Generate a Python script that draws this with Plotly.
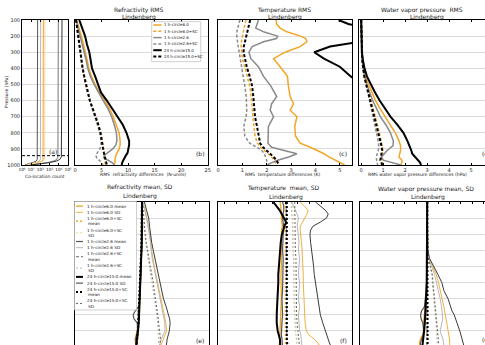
import plotly.graph_objects as go

W, H = 485, 345
FONT = "DejaVu Sans"

# ---------------- data ----------------
series_keys = ["h6", "h6sc", "h26", "h26sc", "h24", "h24sc"]
series_names = ["1 h-circle6.0", "1 h-circle6.0+SC", "1 h-circle2.6",
                "1 h-circle2.6+SC", "24 h-circle15.0", "24 h-circle15.0+SC"]

# (a) co-location count vs pressure
count_ticks = [1, 10, 100, 1000, 10000, 100000]
count_tick_text = ["10⁰", "10¹", "10²", "10³", "10⁴", "10⁵"]
p_a = [100, 300, 500, 700, 900, 930, 950, 965, 975, 985, 992, 1000]
count_h26 = [50, 50, 50, 50, 50, 50, 48, 45, 35, 15, 5, 2]
count_h26sc = [107, 107, 107, 107, 107, 107, 105, 100, 80, 30, 8, 3]
count_h6 = [210, 210, 210, 210, 210, 210, 205, 195, 160, 60, 12, 3]
count_h6sc = [316, 316, 316, 316, 316, 316, 310, 290, 230, 80, 15, 4]
count_h24 = [8900, 8900, 8900, 8900, 8900, 8800, 8000, 6000, 3000, 600, 60, 8]
count_h24sc = [22400, 22400, 22400, 22400, 22400, 22000, 19000, 13000, 6000, 1000, 80, 10]
ref_level_a = 942

# (b) refractivity RMS (N-units)
p_b = [100, 150, 200, 250, 300, 350, 400, 450, 500, 550, 600, 650, 700, 750,
       800, 850, 875, 900, 925, 940, 955, 970, 985, 1000]
rms_n_h6 = [0.3, 0.8, 1.2, 1.6, 2.0, 2.3, 2.6, 3.1, 3.8, 4.6, 5.6, 6.5, 7.2, 7.8,
            8.3, 8.5, 8.5, 8.3, 7.9, 7.7, 7.6, 7.6, 7.5, 7.4]
rms_n_h6sc = [0.2, 0.4, 0.55, 0.75, 0.95, 1.15, 1.4, 1.7, 2.0, 2.4, 2.8, 3.3, 3.85, 4.4,
              4.85, 5.15, 5.3, 5.45, 5.55, 5.6, 5.6, 5.6, 5.65, 5.7]
rms_n_h26 = [0.2, 0.6, 1.0, 1.4, 1.8, 2.1, 2.4, 2.9, 3.6, 4.4, 5.3, 6.2, 6.9, 7.4,
             7.8, 7.9, 7.7, 7.1, 6.2, 5.5, 5.4, 6.1, 7.0, 7.4]
rms_n_h26sc = [0.15, 0.35, 0.5, 0.7, 0.9, 1.1, 1.35, 1.65, 1.95, 2.35, 2.75, 3.25, 3.8, 4.3,
               4.7, 4.9, 4.9, 4.7, 4.2, 3.9, 4.1, 4.6, 5.0, 5.3]
rms_n_h24 = [0.8, 1.3, 1.9, 2.25, 2.7, 2.95, 3.2, 3.8, 4.3, 4.9, 6.0, 7.0, 8.1, 9.0,
             9.7, 10.2, 10.2, 10.1, 9.9, 9.6, 9.3, 9.1, 8.9, 8.8]
rms_n_h24sc = [0.2, 0.4, 0.6, 0.8, 1.0, 1.2, 1.45, 1.75, 2.1, 2.45, 2.8, 3.35, 3.9, 4.4,
               4.8, 5.0, 5.15, 5.3, 5.45, 5.55, 5.65, 5.75, 5.9, 6.0]

# (c) temperature RMS (K)
p_c = [100, 125, 150, 175, 200, 215, 235, 265, 300, 340, 390, 450, 510, 575, 620,
       660, 700, 760, 820, 865, 890, 910, 930, 950, 970, 1000]
rms_t_h6 = [2.39, 2.4, 2.55, 2.85, 3.4, 3.6, 3.65, 3.37, 2.75, 2.28, 2.55, 2.85, 2.89, 2.96, 3.1,
            2.96, 3.24, 3.15, 3.18, 3.37, 3.79, 4.1, 4.35, 4.55, 4.8, 5.2]
rms_t_h6sc = [1.15, 1.1, 1.07, 1.04, 1.0, 0.98, 0.96, 0.95, 0.96, 1.0, 1.1, 1.2, 1.3, 1.36, 1.38,
              1.4, 1.42, 1.47, 1.52, 1.62, 1.75, 1.9, 2.05, 2.2, 2.3, 2.4]
rms_t_h26 = [1.66, 1.6, 1.55, 1.9, 2.45, 2.4, 1.87, 1.4, 1.27, 1.35, 1.66, 1.87, 2.17, 2.41, 2.2,
             2.14, 2.28, 2.07, 2.07, 2.05, 2.2, 2.75, 3.24, 2.9, 2.45, 2.0]
rms_t_h26sc = [0.9, 0.85, 0.8, 0.77, 0.77, 0.78, 0.8, 0.83, 0.87, 0.92, 0.97, 1.05, 1.1, 1.16, 1.18,
               1.18, 1.15, 1.06, 1.1, 1.3, 1.6, 1.8, 1.9, 1.95, 2.0, 2.0]
rms_t_h24 = [4.95, 5.35, 6.3, 6.8, 6.8, 6.5, 5.8, 4.6, 3.95, 4.35, 5.0, 5.45, 6.0, 6.5, 6.8,
             7.0, 7.0, 7.0, 7.0, 7.0, 7.0, 7.0, 7.0, 7.0, 7.0, 7.0]
rms_t_h24sc = [1.32, 1.28, 1.24, 1.2, 1.16, 1.12, 1.09, 1.06, 1.05, 1.1, 1.18, 1.3, 1.4, 1.45, 1.47,
               1.5, 1.52, 1.6, 1.67, 1.73, 1.85, 2.0, 2.15, 2.28, 2.4, 2.5]

# (d) water vapour pressure RMS (hPa)
p_d = [100, 200, 300, 350, 400, 450, 500, 550, 600, 650, 700, 750, 800, 850, 880,
       910, 930, 950, 970, 985, 1000]
rms_e_h6 = [0, 0.01, 0.02, 0.05, 0.1, 0.18, 0.34, 0.48, 0.65, 0.86, 1.1, 1.35, 1.55, 1.72, 1.79,
            1.79, 1.75, 1.72, 1.85, 1.85, 1.8]
rms_e_h6sc = [0, 0.01, 0.03, 0.05, 0.1, 0.15, 0.25, 0.34, 0.44, 0.54, 0.64, 0.74, 0.83, 0.92, 0.97,
              1.0, 0.98, 0.95, 0.93, 0.97, 1.0]
rms_e_h26 = [0, 0.01, 0.02, 0.05, 0.09, 0.15, 0.26, 0.38, 0.52, 0.7, 0.87, 1.12, 1.33, 1.46, 1.45,
             1.18, 1.05, 0.92, 1.0, 1.4, 1.8]
rms_e_h26sc = [0, 0.01, 0.02, 0.04, 0.08, 0.13, 0.21, 0.3, 0.38, 0.46, 0.55, 0.62, 0.7, 0.77, 0.8,
               0.78, 0.73, 0.69, 0.7, 0.73, 0.75]
rms_e_h24 = [0, 0.01, 0.03, 0.08, 0.15, 0.26, 0.44, 0.63, 0.84, 1.08, 1.33, 1.64, 1.92, 2.1, 2.2,
             2.28, 2.32, 2.45, 2.6, 2.68, 2.72]
rms_e_h24sc = [0, 0.01, 0.03, 0.05, 0.09, 0.14, 0.23, 0.32, 0.41, 0.5, 0.6, 0.7, 0.78, 0.87, 0.92,
               0.95, 0.92, 0.88, 0.87, 0.92, 0.95]

# (e) refractivity mean and SD (N-units)
p_e = [100, 150, 200, 250, 300, 350, 400, 450, 500, 550, 600, 650, 700, 750, 775,
       800, 825, 850, 900, 950, 1000]
mean_n_h6 = [0, 0.1, 0.2, 0.2, 0.1, 0, 0, -0.1, -0.2, -0.3, -0.4, -0.5, -0.6, -0.8, -0.9,
             -1.0, -1.2, -1.4, -1.8, -2.6, -2.2]
sd_n_h6 = [0.3, 1.2, 1.8, 2.3, 3.0, 3.3, 3.6, 4.0, 4.6, 5.2, 5.8, 6.4, 7.0, 7.7, 8.0,
           8.3, 8.6, 8.9, 9.2, 8.0, 6.8]
mean_n_h6sc = [0, 0, 0, 0, -0.1, -0.1, -0.2, -0.3, -0.4, -0.5, -0.6, -0.7, -0.8, -0.9, -1.0,
               -1.0, -1.1, -1.2, -1.4, -1.7, -1.8]
sd_n_h6sc = [0.2, 0.4, 0.6, 0.8, 1.1, 1.5, 1.9, 2.5, 3.0, 3.6, 4.1, 4.5, 5.0, 5.4, 5.6,
             5.8, 6.0, 6.1, 6.5, 6.8, 6.5]
mean_n_h26 = [0, 0.1, 0.2, 0.2, 0.1, 0, 0, -0.1, -0.2, -0.3, -0.4, -0.6, -0.8, -1.2, -2.5,
              -3.3, -3.0, -1.8, -1.6, -2.4, -2.0]
sd_n_h26 = [0.3, 1.1, 1.7, 2.2, 2.8, 3.1, 3.4, 3.8, 4.4, 5.0, 5.6, 6.2, 6.8, 7.4, 7.7,
            7.9, 8.2, 8.5, 8.6, 7.2, 6.4]
mean_n_h26sc = [0, 0, 0, 0, -0.1, -0.1, -0.2, -0.3, -0.4, -0.5, -0.6, -0.7, -0.8, -1.0, -1.3,
                -1.6, -1.5, -1.3, -1.4, -1.8, -1.9]
sd_n_h26sc = [0.2, 0.4, 0.6, 0.8, 1.0, 1.4, 1.8, 2.3, 2.8, 3.3, 3.8, 4.2, 4.7, 5.1, 5.3,
              5.5, 5.7, 5.8, 6.0, 6.2, 6.0]
mean_n_h24 = [0, 0, 0.1, 0.1, 0, -0.1, -0.2, -0.3, -0.3, -0.4, -0.5, -0.6, -0.8, -0.9, -1.0,
              -1.0, -1.1, -1.2, -1.5, -2.0, -2.2]
sd_n_h24 = [0.9, 1.7, 2.5, 2.8, 3.1, 3.6, 4.2, 4.8, 5.4, 6.0, 6.8, 7.4, 8.0, 9.0, 9.5,
            9.9, 10.3, 10.5, 10.2, 9.4, 9.0]
mean_n_h24sc = [0, 0, 0, 0, -0.1, -0.2, -0.3, -0.4, -0.5, -0.6, -0.7, -0.8, -0.9, -1.0, -1.1,
                -1.2, -1.3, -1.4, -1.6, -1.9, -2.1]
sd_n_h24sc = [0.2, 0.4, 0.7, 0.9, 1.2, 1.6, 2.0, 2.6, 3.1, 3.7, 4.2, 4.6, 5.1, 5.5, 5.7,
              5.9, 6.1, 6.2, 6.6, 6.9, 6.6]

# (f) temperature mean and SD (K)
p_f = [100, 125, 150, 175, 200, 225, 250, 275, 300, 350, 400, 450, 500, 550, 600,
       650, 700, 750, 800, 850, 900, 925, 950, 975, 1000]
mean_t_h6 = [-0.4, -0.35, -0.3, -0.28, -0.3, -0.25, -0.22, -0.28, -0.3, -0.32, -0.3, -0.28, -0.3, -0.33, -0.3,
             -0.28, -0.3, -0.33, -0.35, -0.35, -0.38, -0.4, -0.42, -0.45, -0.5]
sd_t_h6 = [1.25, 1.6, 1.9, 1.8, 1.6, 1.4, 1.25, 1.25, 1.3, 1.35, 1.4, 1.45, 1.5, 1.5, 1.5,
           1.52, 1.55, 1.58, 1.6, 1.65, 1.75, 1.95, 2.4, 2.7, 2.9]
mean_t_h6sc = [0.05, 0.05, 0.0, 0.02, 0.05, 0.03, 0.0, 0.02, 0.04, 0.03, 0.0, 0.02, 0.04, 0.03, 0.02,
               0.0, 0.02, 0.03, 0.02, 0.0, 0.02, 0.04, 0.05, 0.06, 0.05]
sd_t_h6sc = [0.6, 0.6, 0.65, 0.65, 0.7, 0.65, 0.65, 0.7, 0.7, 0.7, 0.75, 0.75, 0.75, 0.8, 0.8,
             0.8, 0.8, 0.85, 0.85, 0.9, 0.95, 1.0, 1.05, 1.1, 1.1]
mean_t_h26 = [-0.2, -0.1, -0.1, -0.15, -0.2, -0.15, -0.1, -0.1, -0.15, -0.2, -0.2, -0.15, -0.15, -0.2, -0.2,
              -0.2, -0.25, -0.2, -0.2, -0.25, -0.3, -0.3, -0.25, -0.2, -0.2]
sd_t_h26 = [0.55, 0.7, 0.9, 1.0, 1.1, 1.05, 1.0, 1.05, 1.1, 1.15, 1.1, 1.2, 1.15, 1.1, 1.2,
            1.15, 1.1, 1.2, 1.1, 1.15, 1.2, 1.3, 1.35, 1.4, 1.4]
mean_t_h26sc = [0.1, 0.1, 0.08, 0.1, 0.12, 0.1, 0.08, 0.1, 0.1, 0.12, 0.1, 0.08, 0.1, 0.1, 0.12,
                0.1, 0.1, 0.08, 0.1, 0.1, 0.12, 0.14, 0.15, 0.16, 0.15]
sd_t_h26sc = [0.5, 0.5, 0.55, 0.55, 0.6, 0.6, 0.6, 0.6, 0.65, 0.65, 0.65, 0.7, 0.7, 0.7, 0.7,
              0.75, 0.75, 0.75, 0.8, 0.8, 0.85, 0.9, 0.95, 1.0, 1.0]
mean_t_h24 = [-0.96, -0.7, -0.45, -0.27, -0.05, 0.1, -0.05, -0.14, -0.25, -0.35, -0.41, -0.45, -0.5, -0.55, -0.55,
              -0.6, -0.62, -0.65, -0.68, -0.68, -0.6, -0.5, -0.42, -0.4, -0.4]
sd_t_h24 = [2.5, 2.9, 3.3, 3.55, 3.4, 2.9, 2.3, 2.1, 2.05, 2.1, 2.2, 2.3, 2.35, 2.4, 2.5,
            2.6, 2.7, 2.8, 2.9, 3.1, 3.3, 3.4, 3.5, 3.65, 3.8]
mean_t_h24sc = [0.15, 0.15, 0.1, 0.12, 0.14, 0.12, 0.1, 0.1, 0.12, 0.12, 0.1, 0.1, 0.12, 0.12, 0.1,
                0.1, 0.12, 0.12, 0.1, 0.1, 0.1, 0.12, 0.15, 0.18, 0.2]
sd_t_h24sc = [0.8, 0.8, 0.85, 0.85, 0.85, 0.8, 0.8, 0.8, 0.85, 0.85, 0.85, 0.9, 0.9, 0.9, 0.9,
              0.95, 0.95, 0.95, 0.95, 1.0, 1.05, 1.1, 1.1, 1.15, 1.2]

# (g) water vapour pressure mean and SD (hPa)
p_g = [100, 200, 300, 350, 400, 450, 500, 550, 600, 650, 700, 750, 775, 800, 825,
       850, 900, 925, 950, 975, 1000]
mean_e_h6 = [0, 0, 0, 0, 0, 0, 0, -0.03, -0.06, -0.1, -0.13, -0.17, -0.2, -0.25, -0.3,
             -0.3, -0.35, -0.4, -0.6, -0.7, -0.65]
sd_e_h6 = [0, 0, 0.01, 0.02, 0.05, 0.15, 0.5, 0.8, 1.0, 1.18, 1.35, 1.48, 1.55, 1.62, 1.68,
           1.75, 1.88, 1.92, 1.98, 2.0, 2.0]
mean_e_h6sc = [0, 0, 0, 0, 0, 0, 0.01, 0.01, 0.02, 0.02, 0.02, 0.03, 0.03, 0.03, 0.03,
               0.03, 0.04, 0.04, 0.03, 0.02, 0.02]
sd_e_h6sc = [0, 0, 0.01, 0.02, 0.04, 0.1, 0.32, 0.47, 0.53, 0.6, 0.66, 0.73, 0.78, 0.83, 0.88,
             0.93, 0.98, 1.0, 1.02, 1.04, 1.05]
mean_e_h26 = [0, 0, 0, 0, 0, 0, 0, -0.03, -0.06, -0.1, -0.15, -0.25, -0.5, -0.6, -0.55,
              -0.4, -0.3, -0.35, -0.5, -0.6, -0.6]
sd_e_h26 = [0, 0, 0.01, 0.02, 0.04, 0.12, 0.4, 0.65, 0.82, 1.0, 1.15, 1.28, 1.33, 1.37, 1.38,
            1.3, 1.15, 1.25, 1.4, 1.45, 1.5]
mean_e_h26sc = [0, 0, 0, 0, 0, 0, 0, 0, 0.01, 0.01, 0.01, 0.0, -0.02, -0.03, -0.02,
                -0.01, 0.0, 0.0, -0.02, -0.03, -0.03]
sd_e_h26sc = [0, 0, 0.01, 0.02, 0.03, 0.08, 0.27, 0.4, 0.45, 0.5, 0.56, 0.62, 0.66, 0.7, 0.74,
              0.78, 0.82, 0.85, 0.87, 0.9, 0.9]
mean_e_h24 = [0, 0, 0, 0, 0, 0, 0, -0.02, -0.05, -0.07, -0.1, -0.12, -0.15, -0.18, -0.2,
              -0.22, -0.28, -0.3, -0.35, -0.4, -0.45]
sd_e_h24 = [0, 0, 0.01, 0.02, 0.06, 0.2, 0.6, 0.95, 1.3, 1.48, 1.85, 2.05, 2.2, 2.4, 2.5,
            2.65, 2.9, 3.0, 3.15, 3.25, 3.3]
mean_e_h24sc = [0, 0, 0, 0, 0, 0, 0.01, 0.02, 0.02, 0.03, 0.03, 0.03, 0.03, 0.03, 0.03,
                0.04, 0.05, 0.06, 0.05, 0.04, 0.03]
sd_e_h24sc = [0, 0, 0.01, 0.02, 0.04, 0.1, 0.3, 0.45, 0.5, 0.57, 0.63, 0.7, 0.75, 0.8, 0.85,
              0.9, 0.95, 0.97, 0.98, 1.0, 1.0]

# ---------------- styles ----------------
ORANGE = "#F2A526"
ORANGE_SD = "#F0B040"
YELLOW_SD = "#F3DC9A"
GRAY = "#8A8A8A"
DGRAY = "#555555"
LGRAY = "#B8B8B8"
DASH = "3px,2px"

top_style = {
    "h6": dict(color=ORANGE, width=1.5),
    "h6sc": dict(color=ORANGE, width=1.5, dash=DASH),
    "h26": dict(color=GRAY, width=1.5),
    "h26sc": dict(color=GRAY, width=1.5, dash=DASH),
    "h24": dict(color="black", width=2),
    "h24sc": dict(color="black", width=2, dash=DASH),
}
count_style = {
    "h26": dict(color=DGRAY, width=1),
    "h26sc": dict(color=LGRAY, width=1),
    "h6": dict(color=ORANGE, width=1),
    "h6sc": dict(color=YELLOW_SD, width=1),
    "h24": dict(color="#777777", width=1),
    "h24sc": dict(color="#333333", width=1),
}
bot_style = {
    ("h6", "mean"): dict(color=ORANGE, width=1.3),
    ("h6", "SD"): dict(color=ORANGE_SD, width=1),
    ("h6sc", "mean"): dict(color=ORANGE, width=1.5, dash="2px,2px"),
    ("h6sc", "SD"): dict(color=YELLOW_SD, width=1, dash="2px,2px"),
    ("h26", "mean"): dict(color=DGRAY, width=1.2),
    ("h26", "SD"): dict(color=LGRAY, width=1),
    ("h26sc", "mean"): dict(color=GRAY, width=1.3, dash=DASH),
    ("h26sc", "SD"): dict(color=LGRAY, width=1, dash="2px,2px"),
    ("h24", "mean"): dict(color="black", width=2),
    ("h24", "SD"): dict(color="#3A3A3A", width=1),
    ("h24sc", "mean"): dict(color="black", width=2, dash="2px,2px"),
    ("h24sc", "SD"): dict(color="#666666", width=1, dash="2px,2px"),
}

# ---------------- figure ----------------
def px(x):
    return x / W


def py(y):
    return 1 - y / H


fig = go.Figure()


def add(ax, xs, ys, style):
    fig.add_trace(go.Scatter(x=xs, y=ys, mode="lines", line=style,
                             xaxis="x" + ax, yaxis="y" + ax,
                             showlegend=False, hoverinfo="skip"))


counts = dict(h6=count_h6, h6sc=count_h6sc, h26=count_h26, h26sc=count_h26sc,
              h24=count_h24, h24sc=count_h24sc)
for k in ["h26", "h26sc", "h6", "h6sc", "h24", "h24sc"]:
    add("", counts[k], p_a, count_style[k])

rms_b = dict(h6=rms_n_h6, h6sc=rms_n_h6sc, h26=rms_n_h26, h26sc=rms_n_h26sc,
             h24=rms_n_h24, h24sc=rms_n_h24sc)
rms_c = dict(h6=rms_t_h6, h6sc=rms_t_h6sc, h26=rms_t_h26, h26sc=rms_t_h26sc,
             h24=rms_t_h24, h24sc=rms_t_h24sc)
rms_d = dict(h6=rms_e_h6, h6sc=rms_e_h6sc, h26=rms_e_h26, h26sc=rms_e_h26sc,
             h24=rms_e_h24, h24sc=rms_e_h24sc)
for k in series_keys:
    add("2", rms_b[k], p_b, top_style[k])
    add("3", rms_c[k], p_c, top_style[k])
    add("4", rms_d[k], p_d, top_style[k])

stats_e = {("h6", "mean"): mean_n_h6, ("h6", "SD"): sd_n_h6,
           ("h6sc", "mean"): mean_n_h6sc, ("h6sc", "SD"): sd_n_h6sc,
           ("h26", "mean"): mean_n_h26, ("h26", "SD"): sd_n_h26,
           ("h26sc", "mean"): mean_n_h26sc, ("h26sc", "SD"): sd_n_h26sc,
           ("h24", "mean"): mean_n_h24, ("h24", "SD"): sd_n_h24,
           ("h24sc", "mean"): mean_n_h24sc, ("h24sc", "SD"): sd_n_h24sc}
stats_f = {("h6", "mean"): mean_t_h6, ("h6", "SD"): sd_t_h6,
           ("h6sc", "mean"): mean_t_h6sc, ("h6sc", "SD"): sd_t_h6sc,
           ("h26", "mean"): mean_t_h26, ("h26", "SD"): sd_t_h26,
           ("h26sc", "mean"): mean_t_h26sc, ("h26sc", "SD"): sd_t_h26sc,
           ("h24", "mean"): mean_t_h24, ("h24", "SD"): sd_t_h24,
           ("h24sc", "mean"): mean_t_h24sc, ("h24sc", "SD"): sd_t_h24sc}
stats_g = {("h6", "mean"): mean_e_h6, ("h6", "SD"): sd_e_h6,
           ("h6sc", "mean"): mean_e_h6sc, ("h6sc", "SD"): sd_e_h6sc,
           ("h26", "mean"): mean_e_h26, ("h26", "SD"): sd_e_h26,
           ("h26sc", "mean"): mean_e_h26sc, ("h26sc", "SD"): sd_e_h26sc,
           ("h24", "mean"): mean_e_h24, ("h24", "SD"): sd_e_h24,
           ("h24sc", "mean"): mean_e_h24sc, ("h24sc", "SD"): sd_e_h24sc}
bot_order = [(k, s) for k in series_keys for s in ("SD", "mean")]
for key in bot_order:
    add("5", stats_e[key], p_e, bot_style[key])
    add("6", stats_f[key], p_f, bot_style[key])
    add("7", stats_g[key], p_g, bot_style[key])

# reference level in panel (a)
shapes = [dict(type="line", xref="x domain", yref="y", x0=0, x1=1,
               y0=ref_level_a, y1=ref_level_a,
               line=dict(color="black", width=1, dash="3px,2px"))]

# ---------------- axes ----------------
TICKF = dict(family=FONT, size=5, color="#222222")
GRID = "#DADADA"


def yaxis(n, top, bottom, rng, mirror=True, labels=False):
    return dict(domain=[py(bottom), py(top)], range=rng, tickvals=list(range(100, 1001, 100)),
                anchor="x" + n,
                showgrid=True, gridcolor=GRID, gridwidth=0.8, zeroline=False,
                showline=True, linecolor="black", linewidth=1, mirror=mirror,
                ticks="", showticklabels=labels, tickfont=TICKF, automargin=False)


def xaxis_top(n, left, right, rng, mirror=True, **kw):
    d = dict(domain=[px(left), px(right)], range=rng, anchor="y" + n,
             showgrid=False, zeroline=False, tickangle=0,
             showline=True, linecolor="black", linewidth=1, mirror=mirror,
             ticks="inside", ticklen=2, tickcolor="black", tickfont=TICKF,
             automargin=False)
    d.update(kw)
    return d


def xaxis_bottom(n, left, right, rng, dtick):
    return dict(domain=[px(left), px(right)], anchor="y" + n,
                range=rng, side="top", showgrid=False, zeroline=False,
                showline=True, linecolor="black", linewidth=1, mirror=False,
                ticks="inside", ticklen=2, tickcolor="black", dtick=dtick, tick0=0,
                showticklabels=False, automargin=False)


TOP, BOT = 20, 165
BTOP, BBOT = 202, 345
yr_top = [1000, 100]
yr_bot = [987.6, 100]

layout = dict(
    width=W, height=H, margin=dict(l=0, r=0, t=0, b=0),
    paper_bgcolor="white", plot_bgcolor="white",
    font=dict(family=FONT, size=5, color="#222222"),
    showlegend=False,
    xaxis=xaxis_top("", 22, 68, [0, 5], mirror="ticks", type="log",
                    tickvals=count_ticks, ticktext=count_tick_text,
                    tickfont=dict(family=FONT, size=4.3, color="#222222")),
    yaxis=yaxis("", TOP, BOT, yr_top, labels=True),
    xaxis2=xaxis_top("2", 75, 207.7, [0, 25], mirror="ticks", dtick=5, tick0=0),
    yaxis2=yaxis("2", TOP, BOT, yr_top),
    xaxis3=xaxis_top("3", 218, 352, [0, 5.5], mirror="ticks", dtick=1, tick0=0),
    yaxis3=yaxis("3", TOP, BOT, yr_top),
    xaxis4=xaxis_top("4", 359, W, [-0.1, 5.63], mirror="ticks", tickvals=[0, 1, 2, 3, 4, 5]),
    yaxis4=yaxis("4", TOP, BOT, yr_top, mirror=False),
    xaxis5=xaxis_bottom("5", 75, 209, [-25, 25], 5),
    yaxis5=yaxis("5", BTOP, BBOT, yr_bot),
    xaxis6=xaxis_bottom("6", 218, 352, [-5.5, 5.5], 1),
    yaxis6=yaxis("6", BTOP, BBOT, yr_bot),
    xaxis7=xaxis_bottom("7", 360, W, [-6.0, 5.15], 1),
    yaxis7=yaxis("7", BTOP, BBOT, yr_bot, mirror=False),
)

# ---------------- text ----------------
annotations = []


def note(text, x, y, size=6, xanchor="center", yanchor="middle", angle=0, align="center"):
    annotations.append(dict(text=text, x=px(x), y=py(y), xref="paper", yref="paper",
                            showarrow=False, xanchor=xanchor, yanchor=yanchor,
                            textangle=angle, align=align, borderpad=0,
                            font=dict(family=FONT, size=size, color="#1a1a1a")))


note("Refractivity RMS", 139, 10)
note("Lindenberg", 139, 17)
note("Temperature RMS", 284, 10)
note("Lindenberg", 285, 17)
note("Water vapor pressure  RMS", 422, 10)
note("Lindenberg", 427, 17)
note("Refractivity mean, SD", 140, 187)
note("Lindenberg", 140, 195.5)
note("Temperature  mean, SD", 283, 188)
note("Lindenberg", 286, 196.5)
note("Water vapor pressure mean, SD", 426, 189)
note("Lindenberg", 428, 196.5)

note("RMS  refractivity differences  (N-units)", 143, 174.5, size=4.5)
note("RMS  temperature differences (K)", 283, 174.5, size=4.5)
note("RMS water vapor pressure differences (hPa)", 417, 174.5, size=4.5)
note("Co-location count", 45, 176, size=4.5)
note("Pressure (hPa)", 7, 92, size=4.5, angle=-90)

for lab, x, y in [("(a)", 53, 151), ("(b)", 200, 154), ("(c)", 343, 154), ("(d)", 486, 154),
                  ("(e)", 200, 340), ("(f)", 343, 340), ("(g)", 486, 340)]:
    note(lab, x, y, size=6)

# legend of panel (b)
shapes.append(dict(type="rect", xref="paper", yref="paper", x0=px(151.7), x1=px(200.7),
                   y0=py(61.7), y1=py(21.7), line=dict(color="#BBBBBB", width=0.7),
                   fillcolor="white", layer="above"))
for i, (k, name) in enumerate(zip(series_keys, series_names)):
    yy = 25 + i * 6.3
    st = top_style[k]
    shapes.append(dict(type="line", xref="paper", yref="paper", x0=px(153.3), x1=px(161.7),
                       y0=py(yy), y1=py(yy), layer="above",
                       line=dict(color=st["color"], width=st["width"], dash=st.get("dash", "solid"))))
    note(name, 163.3, yy, size=4, xanchor="left")

# legend of panel (e)
shapes.append(dict(type="rect", xref="paper", yref="paper", x0=px(74.5), x1=px(136.5),
                   y0=py(310), y1=py(201.5), line=dict(color="#BBBBBB", width=0.7),
                   fillcolor="white", layer="above"))
cursor = 203
for k, name in zip(series_keys, series_names):
    for s in ("mean", "SD"):
        two = k.endswith("sc")
        h = 11.5 if two else 6.2
        yc = cursor + h / 2
        st = bot_style[(k, s)]
        shapes.append(dict(type="line", xref="paper", yref="paper", x0=px(76), x1=px(83),
                           y0=py(yc), y1=py(yc), layer="above",
                           line=dict(color=st["color"], width=st["width"], dash=st.get("dash", "solid"))))
        if two:
            note(name, 85.5, yc - 2.6, size=4.2, xanchor="left")
            note(s, 87, yc + 2.6, size=4.2, xanchor="left")
        else:
            note(f"{name} {s}", 85.5, yc, size=4.2, xanchor="left")
        cursor += h

layout["annotations"] = annotations
layout["shapes"] = shapes
fig.update_layout(**layout)
fig.write_html("out.html")
